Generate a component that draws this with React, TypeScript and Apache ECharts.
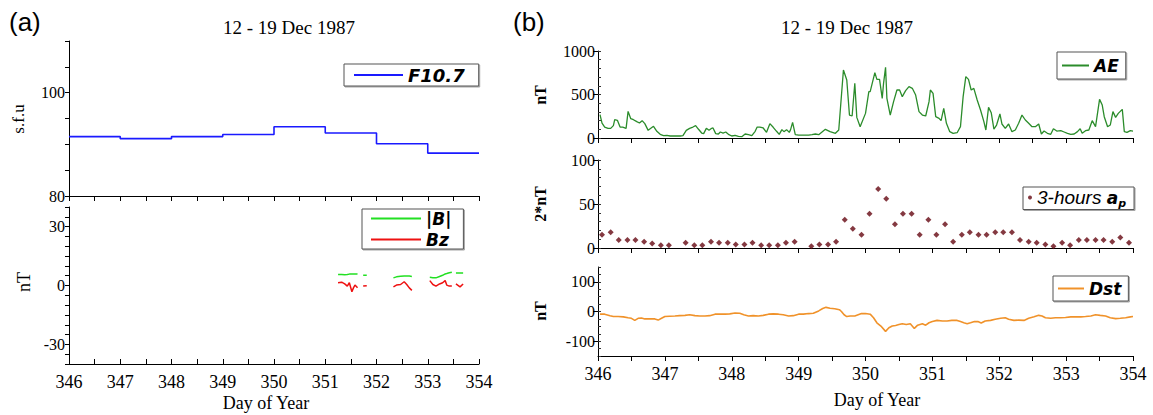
import React, { useEffect, useRef } from "react";
import * as echarts from "echarts";

// ---------------- data ----------------
const DAY_MIN = 346;
const DAY_MAX = 354;

// F10.7 daily solar flux (s.f.u), step per day
const F107_DAYS = [346, 347, 348, 349, 350, 351, 352, 353, 354];
const F107_VALUES = [91.5, 91.1, 91.5, 91.9, 93.4, 92.2, 90.1, 88.3, 88.3];

// IMF |B| and Bz (nT); null = data gap
const B_DAYS = [
  351.25, 351.32, 351.38, 351.43, 351.47, 351.52, 351.55, 351.58, 351.63, 351.69,
  351.74, 351.81, 352.0,
  352.33, 352.39, 352.47, 352.54, 352.59, 352.64, 352.69, 352.9,
  353.04, 353.1, 353.16, 353.23, 353.29, 353.34, 353.37, 353.42, 353.47, 353.51,
  353.55, 353.63, 353.69,
];
const B_TOTAL = [
  5.6, 5.6, 5.5, 5.6, 5.8, 5.8, 5.9, 5.9, 5.8, null,
  5.2, 5.2, null,
  3.9, 4.4, 4.7, 4.9, 4.9, 4.8, 4.6, null,
  4.2, 4.0, 3.9, 4.6, 5.2, 5.9, 6.1, 6.5, 6.8, null,
  6.4, 6.4, 6.4,
];
const B_Z = [
  1.4, 1.7, 0.8, -0.3, 1.4, -3.2, -1.2, 0.2, -1.2, null,
  -0.3, -0.1, null,
  -0.7, 0.2, 0.5, 1.9, 0.5, -1.2, -2.5, null,
  2.5, 0.5, -0.3, 0.8, 1.4, 2.5, 0.2, -0.3, -0.3, null,
  0.8, -0.7, 0.8,
];

// AE index (nT)
const AE_DAYS = [
  346.03, 346.06, 346.1, 346.15, 346.19, 346.23, 346.25, 346.29, 346.33, 346.37,
  346.42, 346.45, 346.49, 346.53, 346.58, 346.62, 346.66, 346.7, 346.75, 346.79,
  346.83, 346.88, 346.93, 346.98, 347.03, 347.08, 347.13, 347.18, 347.23, 347.27,
  347.32, 347.37, 347.42, 347.46, 347.5, 347.55, 347.58, 347.62, 347.66, 347.7,
  347.72, 347.76, 347.8, 347.83, 347.87, 347.91, 347.95, 348.0, 348.05, 348.1,
  348.15, 348.2, 348.25, 348.3, 348.35, 348.38, 348.42, 348.47, 348.52, 348.57,
  348.62, 348.67, 348.71, 348.75, 348.78, 348.82, 348.86, 348.88, 348.91, 348.95,
  349.0, 349.05, 349.1, 349.15, 349.2, 349.25, 349.3, 349.4, 349.47, 349.55,
  349.6, 349.67, 349.72, 349.76, 349.8, 349.84, 349.87, 349.92, 350.0, 350.05,
  350.07, 350.14, 350.17, 350.21, 350.25, 350.27, 350.3, 350.32, 350.37, 350.42,
  350.47, 350.51, 350.55, 350.6, 350.65, 350.7, 350.75, 350.8, 350.85, 350.9,
  350.95, 350.97, 351.01, 351.05, 351.1, 351.13, 351.17, 351.21, 351.26, 351.31,
  351.37, 351.42, 351.46, 351.5, 351.54, 351.58, 351.62, 351.67, 351.72, 351.77,
  351.8, 351.84, 351.88, 351.92, 351.96, 352.01, 352.04, 352.09, 352.14, 352.19,
  352.24, 352.29, 352.34, 352.39, 352.44, 352.49, 352.54, 352.59, 352.63, 352.67,
  352.72, 352.77, 352.81, 352.86, 352.92, 352.97, 353.02, 353.07, 353.12, 353.17,
  353.21, 353.24, 353.29, 353.34, 353.39, 353.44, 353.5, 353.54, 353.57, 353.62,
  353.66, 353.7, 353.74, 353.78, 353.84, 353.87, 353.91, 353.96, 354.0,
];
const AE_VALUES = [
  268, 172, 126, 111, 111, 142, 210, 203, 126, 126,
  111, 306, 222, 210, 188, 172, 199, 165, 88, 111,
  134, 77, 42, 27, 31, 23, 23, 23, 23, 27,
  88, 111, 126, 142, 103, 57, 50, 111, 88, 111,
  115, 50, 46, 69, 57, 69, 42, 23, 31, 19,
  15, 46, 38, 27, 77, 126, 126, 115, 65, 165,
  123, 77, 42, 96, 73, 96, 65, 96, 180, 38,
  34, 34, 34, 34, 38, 46, 38, 100, 73, 54,
  92, 781, 666, 264, 253, 628, 237, 130, 283, 532,
  532, 751, 674, 674, 456, 628, 812, 456, 264, 418,
  552, 552, 475, 544, 590, 571, 494, 303, 264, 253,
  418, 552, 513, 245, 226, 199, 341, 169, 73, 54,
  61, 130, 475, 705, 674, 552, 571, 437, 322, 188,
  92, 352, 291, 103, 149, 276, 161, 111, 161, 73,
  92, 169, 264, 207, 169, 130, 130, 161, 46, 80,
  54, 42, 107, 80, 84, 69, 54, 42, 46, 73,
  107, 54, 84, 92, 199, 130, 444, 379, 245, 130,
  149, 303, 237, 283, 329, 73, 65, 84, 80,
];

// 3-hour ap index (2*nT); null = no point drawn
const AP_DAYS = [
  346.06, 346.19, 346.31, 346.44, 346.56, 346.69, 346.81, 346.94,
  347.06, 347.19, 347.31, 347.44, 347.56, 347.69, 347.81, 347.94,
  348.06, 348.19, 348.31, 348.44, 348.56, 348.69, 348.81, 348.94,
  349.06, 349.19, 349.31, 349.44, 349.56, 349.69, 349.81, 349.94,
  350.06, 350.19, 350.31, 350.44, 350.56, 350.69, 350.81, 350.94,
  351.06, 351.19, 351.31, 351.44, 351.56, 351.69, 351.81, 351.94,
  352.06, 352.19, 352.31, 352.44, 352.56, 352.69, 352.81, 352.94,
  353.06, 353.19, 353.31, 353.44, 353.56, 353.69, 353.81, 353.94,
];
const AP_VALUES = [
  15, 18, 9, 9, 9, 7, 5, 3,
  3, null, 6, 3, 3, 7, 6, 6,
  4, 4, 6, 3, 3, 3, 6, 7,
  null, 2, 4, 4, 7, 32, 22, 15,
  39, 67, 56, 27, 39, 39, 15, 32,
  15, 27, 7, 15, 18, 15, 15, 18,
  18, 18, 9, 7, 6, 4, 2, 6,
  3, 9, 9, 9, 9, 7, 12, 6,
];

// Dst index (nT)
const DST_DAYS = [
  346.03, 346.1, 346.18, 346.23, 346.3, 346.38, 346.45, 346.5, 346.55, 346.6,
  346.65, 346.7, 346.78, 346.85, 346.9, 346.95, 347.0, 347.07, 347.15, 347.22,
  347.3, 347.37, 347.45, 347.52, 347.6, 347.67, 347.75, 347.82, 347.9, 347.97,
  348.05, 348.12, 348.18, 348.25, 348.32, 348.4, 348.47, 348.55, 348.62, 348.7,
  348.77, 348.85, 348.92, 349.0, 349.07, 349.15, 349.22, 349.3, 349.36, 349.41,
  349.47, 349.54, 349.61, 349.64, 349.68, 349.72, 349.77, 349.84, 349.89, 349.94,
  350.0, 350.07, 350.12, 350.17, 350.23, 350.3, 350.35, 350.4, 350.45, 350.5,
  350.55, 350.61, 350.67, 350.73, 350.78, 350.85, 350.9, 350.95, 351.0, 351.07,
  351.15, 351.22, 351.29, 351.37, 351.42, 351.47, 351.52, 351.57, 351.63, 351.68,
  351.73, 351.79, 351.87, 351.94, 352.02, 352.09, 352.14, 352.22, 352.29, 352.37,
  352.44, 352.52, 352.59, 352.64, 352.69, 352.77, 352.84, 352.92, 352.99, 353.07,
  353.14, 353.22, 353.29, 353.37, 353.44, 353.51, 353.59, 353.66, 353.74, 353.81,
  353.89, 353.96, 354.0,
];
const DST_VALUES = [
  -9, -9, -14, -17, -17, -18, -21, -23, -30, -23,
  -22, -25, -25, -25, -29, -23, -17, -16, -15, -14,
  -13, -11, -14, -15, -15, -14, -9, -9, -9, -8,
  -5, -6, -11, -15, -14, -15, -13, -9, -8, -9,
  -11, -15, -14, -9, -9, -7, -6, 2, 10, 14,
  11, 9, 6, 0, -11, -17, -15, -15, -11, -7,
  -7, -9, -21, -38, -49, -67, -55, -49, -47, -44,
  -41, -44, -41, -57, -46, -41, -46, -38, -34, -30,
  -32, -32, -30, -30, -34, -38, -41, -38, -34, -34,
  -39, -32, -30, -26, -23, -21, -26, -30, -29, -30,
  -23, -18, -13, -15, -21, -23, -21, -21, -20, -18,
  -18, -18, -17, -15, -11, -13, -15, -21, -24, -23,
  -21, -18, -17,
];

// axis label values
const F107_LABELS = [80, 100];
const B_LABELS = [-30, 0, 30];
const AE_LABELS = [0, 500, 1000];
const AP_LABELS = [0, 50, 100];
const DST_LABELS = [-100, 0, 100];

// ---------------- styles ----------------
const SERIF = '"Liberation Serif", "Times New Roman", serif';
const SANS = '"Liberation Sans", Arial, sans-serif';
const LEGF = '"DejaVu Sans", Verdana, sans-serif';
const NARROW = '"Liberation Sans Narrow", "Liberation Sans", Arial, sans-serif';
const BLACK = "#000";

const pairs = (xs: number[], ys: (number | null)[]) =>
  xs.map((x, i) => [x, ys[i] === null ? "-" : ys[i]]);

function xAxis(grid: number, showLabel: boolean, inside: boolean) {
  return {
    type: "value",
    gridIndex: grid,
    min: DAY_MIN,
    max: DAY_MAX,
    interval: 1,
    axisLine: { show: true, onZero: false, lineStyle: { color: BLACK, width: 1 } },
    axisTick: { show: true, inside, length: 5, lineStyle: { color: BLACK } },
    minorTick: { show: true, splitNumber: 2, length: 5, lineStyle: { color: BLACK } },
    axisLabel: {
      show: showLabel,
      color: BLACK,
      fontFamily: SERIF,
      fontSize: 18,
      margin: 9,
      formatter: (v: number) => String(v),
    },
    splitLine: { show: false },
    minorSplitLine: { show: false },
  };
}

function yAxisA(grid: number, min: number, max: number, labels: number[]) {
  return {
    type: "value",
    gridIndex: grid,
    position: "left",
    min,
    max,
    interval: 5,
    axisLine: { show: true, onZero: false, lineStyle: { color: BLACK, width: 1 } },
    axisTick: { show: true, length: 4, lineStyle: { color: BLACK } },
    axisLabel: {
      color: BLACK,
      fontFamily: SERIF,
      fontSize: 16,
      margin: 4,
      formatter: (v: number) => (labels.indexOf(v) >= 0 ? String(v) : ""),
    },
    splitLine: { show: false },
  };
}

function yAxisB(grid: number, min: number, max: number, step: number, labels: number[]) {
  return {
    type: "value",
    gridIndex: grid,
    position: "left",
    min,
    max,
    interval: step,
    axisLine: { show: true, onZero: false, lineStyle: { color: BLACK, width: 1 } },
    axisTick: { show: true, length: 5, customValues: labels, lineStyle: { color: BLACK } },
    axisLabel: {
      color: BLACK,
      fontFamily: SERIF,
      fontSize: 16,
      margin: 3,
      customValues: labels,
      formatter: (v: number) => String(v),
    },
    splitLine: { show: false },
  };
}

function yMinor(grid: number, min: number, max: number, step: number) {
  return {
    type: "value",
    gridIndex: grid,
    position: "left",
    min,
    max,
    interval: step,
    axisLine: { show: false, onZero: false },
    axisTick: { show: true, inside: true, length: 3, lineStyle: { color: "#333" } },
    axisLabel: { show: false },
    splitLine: { show: false },
  };
}

const legendBase = {
  backgroundColor: "#fff",
  borderColor: "#555",
  borderWidth: 1,
  borderRadius: 0,
  shadowColor: "rgba(0,0,0,0.35)",
  shadowBlur: 1,
  shadowOffsetX: 1,
  shadowOffsetY: 1,
  selectedMode: false,
  icon: "rect",
  itemHeight: 2,
  textStyle: {
    fontFamily: LEGF,
    fontWeight: "bold",
    fontStyle: "italic",
    fontSize: 17,
    color: BLACK,
  },
};

function buildOption() {
  return {
    animation: false,
    backgroundColor: "#fff",
    textStyle: { fontFamily: SERIF },
    grid: [
      { left: 69, top: 41, width: 410, height: 155 },
      { left: 69, top: 207, width: 410, height: 157 },
      { left: 598, top: 51, width: 535, height: 87 },
      { left: 598, top: 160, width: 535, height: 88 },
      { left: 598, top: 267, width: 535, height: 89 },
    ],
    xAxis: [
      xAxis(0, false, false),
      xAxis(1, true, true),
      xAxis(2, false, false),
      xAxis(3, false, false),
      xAxis(4, true, false),
    ],
    yAxis: [
      yAxisA(0, 80, 110, F107_LABELS),
      yAxisA(1, -40, 40, B_LABELS),
      yAxisB(2, 0, 1000, 500, AE_LABELS),
      yMinor(2, 0, 1000, 100),
      yAxisB(3, 0, 100, 50, AP_LABELS),
      yMinor(3, 0, 100, 10),
      yAxisB(4, -150, 150, 50, DST_LABELS),
      yMinor(4, -150, 150, 25),
    ],
    legend: [
      {
        ...legendBase,
        data: ["F10.7"],
        left: 344,
        top: 64,
        itemWidth: 49,
        padding: [2, 14, 2, 10],
        textStyle: { ...legendBase.textStyle, fontSize: 18 },
      },
      {
        ...legendBase,
        data: ["|B|", "Bz"],
        orient: "vertical",
        left: 362,
        top: 209,
        itemWidth: 50,
        itemGap: 4,
        padding: [1, 12, 1, 9],
      },
      {
        ...legendBase,
        data: ["AE"],
        left: 1057,
        top: 52,
        itemWidth: 27,
        padding: [5, 7, 5, 5],
      },
      {
        ...legendBase,
        data: ["3-hours ap"],
        left: 1023,
        top: 187,
        icon: "circle",
        itemWidth: 4,
        itemHeight: 4,
        padding: [1, 8, 1, 5],
        formatter: () => "{t|3-hours }{a|a}{p|p}",
        textStyle: {
          color: BLACK,
          rich: {
            t: { fontFamily: NARROW, fontStyle: "italic", fontWeight: "normal", fontSize: 19, lineHeight: 22, color: BLACK },
            a: { fontFamily: LEGF, fontStyle: "italic", fontWeight: "bold", fontSize: 17, lineHeight: 22, color: BLACK },
            p: { fontFamily: LEGF, fontStyle: "italic", fontWeight: "bold", fontSize: 11, lineHeight: 11, verticalAlign: "bottom", color: BLACK },
          },
        },
      },
      {
        ...legendBase,
        data: ["Dst"],
        left: 1053,
        top: 276,
        itemWidth: 26,
        padding: [4, 7, 4, 5],
      },
    ],
    series: [
      {
        name: "F10.7",
        type: "line",
        xAxisIndex: 0,
        yAxisIndex: 0,
        step: "end",
        showSymbol: false,
        symbol: "none",
        data: pairs(F107_DAYS, F107_VALUES),
        lineStyle: { color: "#1a1aff", width: 1.6 },
        itemStyle: { color: "#1a1aff" },
      },
      {
        name: "|B|",
        type: "line",
        xAxisIndex: 1,
        yAxisIndex: 1,
        showSymbol: false,
        symbol: "none",
        connectNulls: false,
        data: pairs(B_DAYS, B_TOTAL),
        lineStyle: { color: "#22e022", width: 1.5 },
        itemStyle: { color: "#22e022" },
      },
      {
        name: "Bz",
        type: "line",
        xAxisIndex: 1,
        yAxisIndex: 1,
        showSymbol: false,
        symbol: "none",
        connectNulls: false,
        data: pairs(B_DAYS, B_Z),
        lineStyle: { color: "#ee1111", width: 1.5 },
        itemStyle: { color: "#ee1111" },
      },
      {
        name: "AE",
        type: "line",
        xAxisIndex: 2,
        yAxisIndex: 2,
        showSymbol: false,
        symbol: "none",
        data: pairs(AE_DAYS, AE_VALUES),
        lineStyle: { color: "#2b8c2b", width: 1.3 },
        itemStyle: { color: "#2b8c2b" },
      },
      {
        name: "3-hours ap",
        type: "scatter",
        xAxisIndex: 3,
        yAxisIndex: 4,
        symbol: "diamond",
        symbolSize: 6,
        data: pairs(AP_DAYS, AP_VALUES),
        itemStyle: { color: "#650812" },
      },
      {
        name: "Dst",
        type: "line",
        xAxisIndex: 4,
        yAxisIndex: 6,
        showSymbol: false,
        symbol: "none",
        data: pairs(DST_DAYS, DST_VALUES),
        lineStyle: { color: "#f0922a", width: 1.6 },
        itemStyle: { color: "#f0922a" },
      },
    ],
    graphic: [
      { type: "text", x: 9, y: 22, style: { text: "(a)", fontFamily: SANS, fontSize: 26, fill: BLACK, align: "left", verticalAlign: "middle" } },
      { type: "text", x: 513, y: 22, style: { text: "(b)", fontFamily: SANS, fontSize: 26, fill: BLACK, align: "left", verticalAlign: "middle" } },
      { type: "text", x: 289, y: 27, style: { text: "12 - 19 Dec 1987", fontFamily: SERIF, fontSize: 19, fill: BLACK, align: "center", verticalAlign: "middle" } },
      { type: "text", x: 847, y: 27, style: { text: "12 - 19 Dec 1987", fontFamily: SERIF, fontSize: 19, fill: BLACK, align: "center", verticalAlign: "middle" } },
      { type: "text", x: 18, y: 119, rotation: Math.PI / 2, style: { text: "s.f.u", fontFamily: SERIF, fontSize: 17, fill: BLACK, align: "center", verticalAlign: "middle" } },
      { type: "text", x: 24, y: 282, rotation: Math.PI / 2, style: { text: "nT", fontFamily: SERIF, fontSize: 18, fill: BLACK, align: "center", verticalAlign: "middle" } },
      { type: "text", x: 540, y: 95, rotation: Math.PI / 2, style: { text: "nT", fontFamily: SERIF, fontWeight: "bold", fontSize: 16, fill: BLACK, align: "center", verticalAlign: "middle" } },
      { type: "text", x: 540, y: 204, rotation: Math.PI / 2, style: { text: "2*nT", fontFamily: SERIF, fontWeight: "bold", fontSize: 16, fill: BLACK, align: "center", verticalAlign: "middle" } },
      { type: "text", x: 540, y: 311, rotation: Math.PI / 2, style: { text: "nT", fontFamily: SERIF, fontWeight: "bold", fontSize: 16, fill: BLACK, align: "center", verticalAlign: "middle" } },
      { type: "text", x: 266, y: 403, style: { text: "Day of Year", fontFamily: SERIF, fontSize: 18, fill: BLACK, align: "center", verticalAlign: "middle" } },
      { type: "text", x: 877, y: 400, style: { text: "Day of Year", fontFamily: SERIF, fontSize: 18, fill: BLACK, align: "center", verticalAlign: "middle" } },
    ],
  };
}

export default function App() {
  const ref = useRef<HTMLDivElement>(null);
  useEffect(() => {
    if (!ref.current) return;
    const chart = echarts.init(ref.current, undefined, { renderer: "svg" });
    chart.setOption(buildOption() as any);
    return () => chart.dispose();
  }, []);
  return (
    <div
      ref={ref}
      style={{ position: "fixed", left: 0, top: 0, width: 1153, height: 415, background: "#fff" }}
    />
  );
}
